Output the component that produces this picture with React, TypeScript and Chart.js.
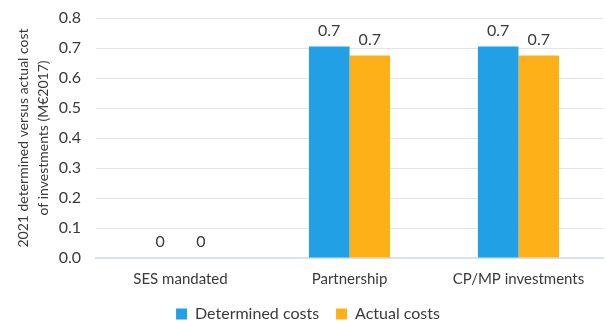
import React, { useEffect, useRef } from "react";
import { Chart, registerables } from "chart.js";

Chart.register(...registerables);

const categories = ["SES mandated", "Partnership", "CP/MP investments"];
const determinedCosts = [0, 0.705, 0.705];
const actualCosts = [0, 0.675, 0.675];
const seriesNames = ["Determined costs", "Actual costs"];
const yTitle = ["2021 determined versus actual cost", "of investments (M€2017)"];

const FONT = "Lato, 'Open Sans', sans-serif";
const TEXT = "#3a3a3a";

const valueLabels = {
  id: "valueLabels",
  afterDatasetsDraw(chart: any) {
    const ctx = chart.ctx;
    ctx.save();
    ctx.font = `16px ${FONT}`;
    ctx.fillStyle = TEXT;
    ctx.textAlign = "center";
    ctx.textBaseline = "middle";
    chart.data.datasets.forEach((ds: any, i: number) => {
      const meta = chart.getDatasetMeta(i);
      meta.data.forEach((el: any, j: number) => {
        const v = ds.data[j];
        const txt = v === 0 ? "0" : v.toFixed(1);
        ctx.fillText(txt, el.x, el.y - 16);
      });
    });
    ctx.restore();
  },
};

export default function App() {
  const ref = useRef<HTMLCanvasElement>(null);
  useEffect(() => {
    document.body.style.margin = "0";
    const chart = new Chart(ref.current!, {
      type: "bar",
      data: {
        labels: categories,
        datasets: [
          {
            label: seriesNames[0],
            data: determinedCosts,
            backgroundColor: "#21a0e6",
            categoryPercentage: 0.48,
            barPercentage: 1,
          },
          {
            label: seriesNames[1],
            data: actualCosts,
            backgroundColor: "#fdb018",
            categoryPercentage: 0.48,
            barPercentage: 1,
          },
        ],
      },
      options: {
        animation: false,
        responsive: false,
        layout: { padding: { top: 18, right: 3, left: 13, bottom: 0 } },
        plugins: {
          legend: {
            position: "bottom",
            maxHeight: 33,
            labels: {
              boxWidth: 11,
              boxHeight: 11,
              padding: 17,
              color: TEXT,
              font: { family: FONT, size: 16 },
            },
          },
          tooltip: { enabled: false },
        },
        scales: {
          x: {
            grid: { display: false },
            border: { color: "#d6e3f5", width: 2 },
            ticks: { color: TEXT, padding: 4, font: { family: FONT, size: 15 } },
            afterFit: (s: any) => {
              s.height = 31;
            },
          },
          y: {
            min: 0,
            max: 0.8,
            ticks: {
              stepSize: 0.1,
              color: TEXT,
              font: { family: FONT, size: 16 },
              padding: 15,
              callback: (v: any) => Number(v).toFixed(1),
            },
            grid: { color: "#e4e4e4", drawTicks: false },
            border: { display: false },
            afterFit: (s: any) => {
              s.paddingTop = 0;
              s.width = 83;
            },
            title: {
              display: true,
              text: yTitle,
              color: TEXT,
              font: { family: FONT, size: 14, lineHeight: 1.45 },
              padding: { top: 0, bottom: 4 },
            },
          },
        },
      },
      plugins: [valueLabels],
    });
    return () => chart.destroy();
  }, []);
  return (
    <div style={{ width: 606, height: 322 }}>
      <canvas ref={ref} width={606} height={322} style={{ display: "block" }} />
    </div>
  );
}
